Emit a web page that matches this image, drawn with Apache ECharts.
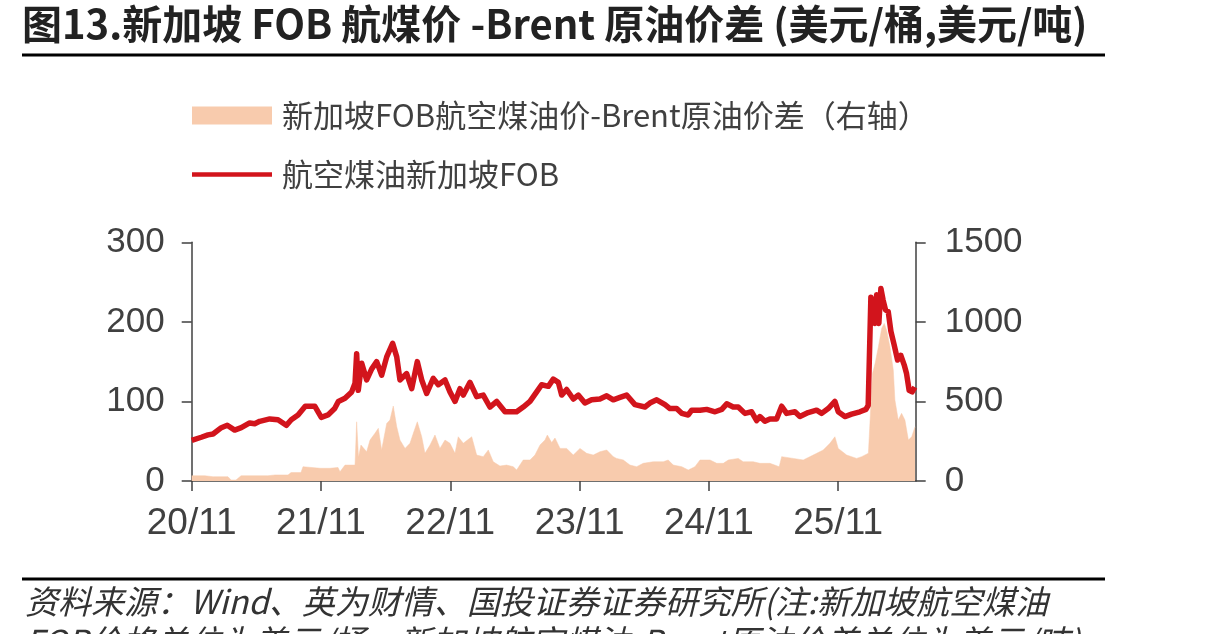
<!DOCTYPE html>
<html>
<head>
<meta charset="utf-8">
<script src="https://cdn.jsdelivr.net/npm/echarts@6/dist/echarts.min.js"></script>
<style>
  html, body { margin: 0; padding: 0; background: #fff; }
  #main { width: 1223px; height: 634px; }
</style>
</head>
<body>
<div id="main"></div>
<script>
// x 坐标：自 2020/11 起的月数
var xTicks = [0, 12, 24, 36, 48, 60];
var xMax = 67.2;

// 航空煤油新加坡FOB（左轴，美元/桶）
var lineT = [0, 0.89, 1.51, 1.98, 2.75, 3.3, 3.99, 4.6, 5.38, 5.85, 6.31, 7.24, 8.01, 8.78, 9.24, 9.87,
  10.54, 11.42, 12.03, 12.65, 13.27, 13.61, 14.23, 14.85, 15.16, 15.31, 15.46, 15.78, 16.24, 16.71, 17.17,
  17.63, 18.1, 18.65, 19.03, 19.33, 19.95, 20.42, 20.94, 21.35, 21.81, 22.42, 22.89, 23.51, 23.97, 24.44,
  24.9, 25.21, 25.83, 26.45, 27.06, 27.68, 28.31, 29.08, 30.16, 30.77, 31.4, 32.02, 32.48, 33.1, 33.56,
  34.03, 34.34, 34.8, 35.42, 35.88, 36.5, 37.12, 37.89, 38.52, 39.13, 39.75, 40.37, 41.14, 42.07, 42.53,
  43.16, 43.93, 44.39, 45.01, 45.48, 46.09, 46.41, 47.18, 47.8, 48.58, 49.2, 49.66, 50.26, 50.73, 51.35,
  51.97, 52.44, 52.74, 53.2, 53.67, 54.29, 54.76, 55.22, 55.99, 56.45, 57.22, 58.0, 58.47, 59.08, 59.7,
  60.01, 60.63, 61.25, 62.02, 62.58, 62.79, 63.04, 63.25, 63.41, 63.57, 63.78, 63.97, 64.18, 64.4, 64.65,
  64.9, 65.2, 65.52, 65.82, 66.13, 66.35, 66.59, 66.87, 67.12];
var lineV = [51, 55, 58, 59, 67, 70, 64, 67, 73, 72, 75, 78, 77, 70, 77, 83,
  94, 94, 80, 83, 91, 100, 104, 112, 123, 160, 114, 148, 127, 141, 150,
  133, 156, 173, 156, 127, 135, 116, 150, 127, 110, 129, 121, 127, 112, 100,
  116, 108, 124, 106, 108, 93, 100, 87, 87, 93, 100, 112, 121, 119, 128,
  124, 108, 115, 103, 108, 98, 102, 103, 107, 102, 105, 108, 96, 93, 98,
  102, 96, 91, 91, 85, 83, 89, 89, 90, 87, 90, 97, 93, 93, 85,
  87, 76, 81, 75, 78, 78, 94, 85, 87, 81, 86, 89, 85, 91, 100,
  87, 81, 84, 87, 90, 95, 231, 219, 198, 234, 198, 242, 227, 215, 213,
  188, 171, 152, 158, 146, 135, 114, 112, 118];

// 新加坡FOB航空煤油价-Brent原油价差（右轴）
var areaT = [0, 1.23, 1.98, 3.37, 3.65, 4.11, 4.58, 7.08, 7.73, 8.94, 9.22, 10.14, 10.33, 11.91, 12.84,
  13.58, 13.76, 14.23, 15.16, 15.31, 15.48, 15.71, 16.24, 16.55, 17.01, 17.32, 17.63, 18.1, 18.4, 18.71,
  19.03, 19.33, 19.8, 20.26, 20.57, 20.94, 21.35, 21.65, 22.12, 22.58, 23.04, 23.51, 23.97, 24.44, 24.74,
  25.21, 25.99, 26.45, 27.06, 27.53, 27.99, 28.61, 29.23, 29.85, 30.16, 30.77, 31.4, 31.86, 32.33, 32.79,
  33.01, 33.41, 33.72, 34.19, 34.8, 35.42, 36.04, 36.66, 37.27, 37.89, 38.52, 39.13, 39.44, 40.06, 40.68,
  41.3, 41.91, 42.84, 43.77, 44.23, 44.7, 45.48, 46.09, 46.71, 47.18, 48.11, 48.73, 49.34, 49.81, 50.73,
  51.19, 52.12, 52.74, 53.67, 54.53, 54.76, 55.83, 56.76, 57.69, 58.62, 59.24, 59.7, 60.01, 60.79, 61.72,
  62.19, 62.81, 62.98, 63.19, 63.43, 63.74, 64.04, 64.28, 64.5, 64.81, 65.12, 65.27, 65.58, 65.89, 66.2,
  66.52, 66.83, 67.14];
var areaV = [33, 33, 27, 27, 6, 6, 33, 33, 38, 38, 53, 53, 90, 80, 80,
  85, 58, 100, 100, 372, 150, 226, 184, 257, 300, 331, 195, 362, 383, 471,
  341, 257, 205, 237, 300, 372, 278, 174, 226, 289, 205, 257, 237, 174, 278,
  237, 278, 163, 153, 195, 121, 94, 100, 90, 69, 132, 132, 163, 226, 257,
  289, 242, 270, 205, 205, 163, 205, 174, 163, 184, 195, 153, 142, 132, 100,
  90, 111, 121, 121, 132, 100, 90, 69, 90, 132, 132, 111, 111, 132, 142,
  121, 121, 111, 111, 90, 153, 142, 132, 163, 195, 237, 278, 205, 163, 142,
  153, 174, 174, 676, 739, 843, 959, 990, 948, 843, 697, 509, 383, 425, 383,
  257, 278, 341];

var leftTicks = [0, 100, 200, 300];
var rightTicks = [0, 500, 1000, 1500];

var nameArea = '新加坡FOB航空煤油价-Brent原油价差（右轴）';
var nameLine = '航空煤油新加坡FOB';

function pairs(t, v) {
    var out = [];
    for (var i = 0; i < t.length; i++) out.push([t[i], v[i]]);
    return out;
}

var axisColor = '#404040';
var red = '#D2141C';
var peach = '#F8CBAD';
var numFont = '"Liberation Sans", Arial, sans-serif';
var cjkFont = '"Noto Sans CJK SC", sans-serif';

var chart = echarts.init(document.getElementById('main'));
var option = {
    animation: false,
    backgroundColor: '#fff',
    legend: [
        {
            data: [{ name: nameArea, icon: 'rect' }],
            left: 192,
            top: 100,
            padding: 0,
            itemWidth: 80,
            itemHeight: 18,
            textStyle: { fontSize: 31, color: '#404040', fontFamily: cjkFont, padding: [0, 0, 0, 5] }
        },
        {
            data: [{ name: nameLine, icon: 'rect', itemStyle: { color: red } }],
            left: 192,
            top: 159,
            padding: 0,
            itemWidth: 80,
            itemHeight: 4.5,
            textStyle: { fontSize: 31, color: '#404040', fontFamily: cjkFont, padding: [0, 0, 0, 5] }
        }
    ],
    grid: {
        left: 191.7,
        right: 307.3,
        top: 242.3,
        bottom: 153,
        containLabel: false
    },
    xAxis: {
        type: 'value',
        min: 0,
        max: xMax,
        interval: 12,
        axisLine: { show: true, onZero: false, lineStyle: { color: axisColor, width: 1.5 } },
        axisTick: { show: true, length: 10, customValues: xTicks, lineStyle: { color: axisColor, width: 1.5 } },
        axisLabel: {
            customValues: xTicks,
            margin: 24,
            fontSize: 37,
            color: axisColor,
            fontFamily: numFont,
            formatter: function (v) { return (20 + Math.round(v / 12)) + '/11'; }
        },
        splitLine: { show: false }
    },
    yAxis: [
        {
            type: 'value',
            min: 0,
            max: 300,
            interval: 100,
            axisLine: { show: true, lineStyle: { color: axisColor, width: 1.5 } },
            axisTick: { show: true, length: 10, customValues: leftTicks, lineStyle: { color: axisColor, width: 1.5 } },
            axisLabel: { margin: 27, fontSize: 35, color: axisColor, fontFamily: numFont },
            splitLine: { show: false }
        },
        {
            type: 'value',
            position: 'right',
            min: 0,
            max: 1500,
            interval: 500,
            axisLine: { show: true, lineStyle: { color: axisColor, width: 1.5 } },
            axisTick: { show: true, length: 10, customValues: rightTicks, lineStyle: { color: axisColor, width: 1.5 } },
            axisLabel: {
                margin: 29, fontSize: 35, color: axisColor, fontFamily: numFont,
                formatter: function (v) { return String(v); }
            },
            splitLine: { show: false }
        }
    ],
    series: [
        {
            name: nameArea,
            type: 'line',
            yAxisIndex: 1,
            symbol: 'none',
            lineStyle: { width: 0.5, color: peach },
            itemStyle: { color: peach },
            areaStyle: { color: peach, opacity: 1 },
            z: 1,
            data: pairs(areaT, areaV)
        },
        {
            name: nameLine,
            type: 'line',
            yAxisIndex: 0,
            symbol: 'none',
            lineStyle: { width: 5.5, color: red, join: 'round' },
            itemStyle: { color: red },
            z: 2,
            data: pairs(lineT, lineV)
        }
    ],
    graphic: [
        {
            type: 'text',
            left: 22,
            top: 4,
            style: {
                text: '图13.新加坡 FOB 航煤价 -Brent 原油价差 (美元/桶,美元/吨)',
                font: 'bold 40px ' + cjkFont,
                fill: '#222'
            }
        },
        {
            type: 'line',
            shape: { x1: 22, y1: 55, x2: 1105, y2: 55 },
            style: { stroke: '#000', lineWidth: 3 }
        },
        {
            type: 'line',
            shape: { x1: 22, y1: 579, x2: 1105, y2: 579 },
            style: { stroke: '#000', lineWidth: 3 }
        },
        {
            type: 'text',
            left: 25,
            top: 585,
            style: {
                text: '资料来源：Wind、英为财情、国投证券证券研究所(注:新加坡航空煤油',
                font: 'italic 33px ' + cjkFont,
                fill: '#333'
            }
        },
        {
            type: 'text',
            left: 25,
            top: 625,
            style: {
                text: 'FOB价格单位为美元/桶，新加坡航空煤油-Brent原油价差单位为美元/吨)',
                font: 'italic 33px ' + cjkFont,
                fill: '#333'
            }
        }
    ]
};
chart.setOption(option);
</script>
</body>
</html>
